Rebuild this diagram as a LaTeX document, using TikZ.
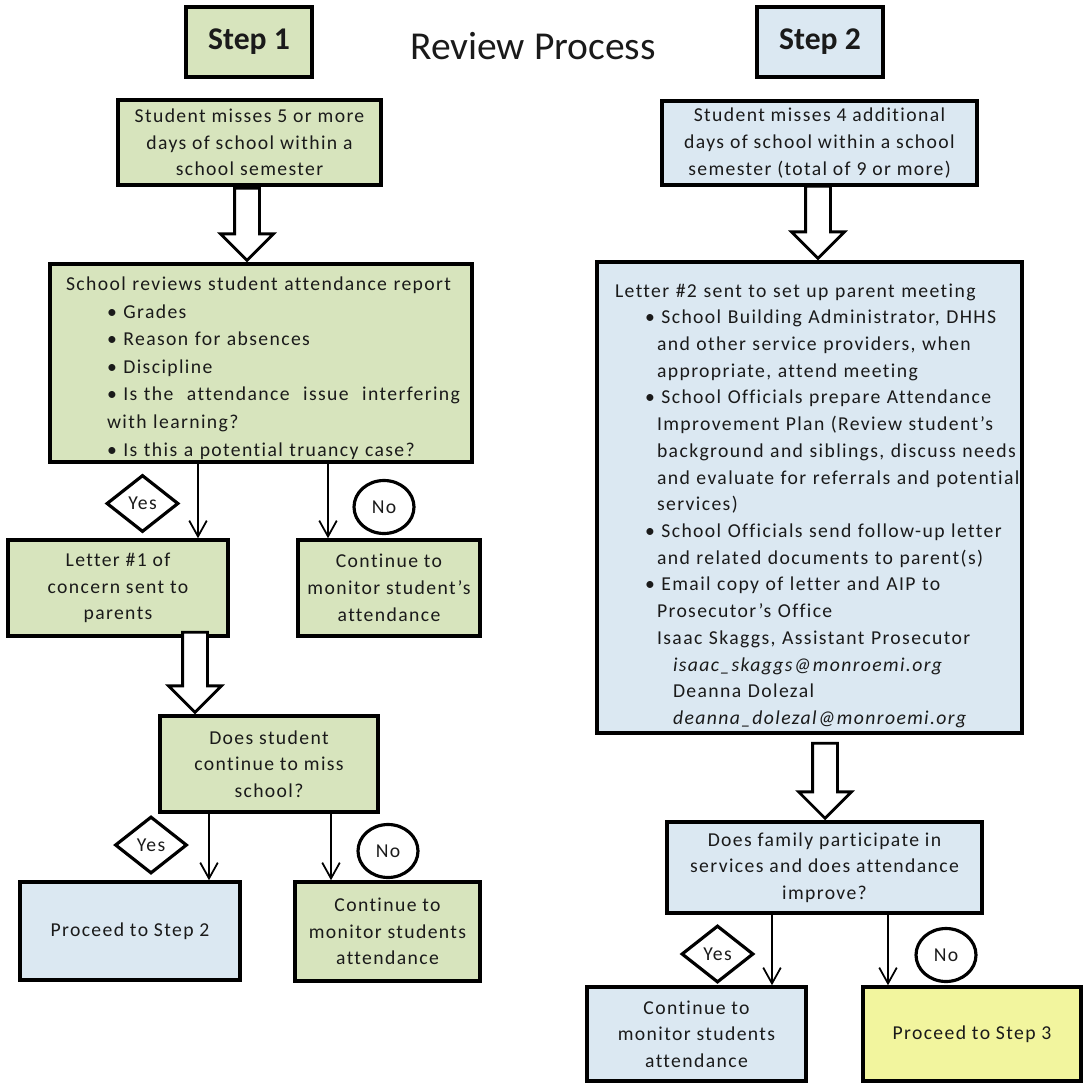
\documentclass[tikz,border=0pt]{standalone}
\usepackage{fontspec}
\setmainfont{Carlito}
\newfontfamily\spacedfont[LetterSpace=7,RawFeature={-liga}]{Carlito}
\definecolor{rpGreen}{HTML}{D7E4BD}
\definecolor{rpBlue}{HTML}{DBE8F2}
\definecolor{rpYellow}{HTML}{F2F59E}
\definecolor{rpInk}{HTML}{1A1A1A}
\usetikzlibrary{positioning,arrows.meta,calc,shapes.geometric,shapes.arrows}
\begin{document}
\begin{tikzpicture}[x=0.02cm, y=-0.02cm,
  every node/.style={font=\spacedfont\fontsize{11.2}{15.2}\selectfont, text=rpInk},
  box/.style={draw, line width=2pt, align=center, inner sep=0pt},
  stepbox/.style={box, minimum width=2.52cm, minimum height=1.4cm, font=\bfseries\fontsize{18}{20}\selectfont},
  yes/.style={draw, diamond, line width=1.8pt, inner sep=0pt, minimum width=1.44cm, minimum height=1.14cm},
  no/.style={draw, ellipse, line width=1.8pt, inner sep=0pt, minimum width=1.2cm, minimum height=1.06cm},
  bigarrow/.style={draw, single arrow, fill=white, line width=1.6pt, shape border rotate=270, single arrow head extend=0.28cm, inner sep=0.22cm, anchor=tip},
  thinarrow/.style={line width=1pt, -{Straight Barb[length=9pt,width=10pt]}}]
\useasboundingbox (0,0) rectangle (1083,1084);
\node[stepbox, fill=rpGreen] (step1) at (249,42) {Step 1};
\node[font=\fontsize{22.5}{24}\selectfont] (title) at (533,46) {Review Process};
\node[stepbox, fill=rpBlue] (step2) at (820,42) {Step 2};

\node[box, fill=rpGreen, minimum width=5.26cm, minimum height=1.7cm] (miss5) at (249.5,142.5) {Student misses 5 or more\\days of school within a\\school semester};
\node[box, fill=rpGreen, minimum width=8.44cm, minimum height=3.96cm, text width=8cm, align=left, font=\spacedfont\fontsize{11.2}{15.7}\selectfont] (review) at (261,363) {\rule{0pt}{0.48cm}\hspace*{0.1cm}School reviews student attendance report\\
\hspace*{0.92cm}• Grades\\
\hspace*{0.92cm}• Reason for absences\\
\hspace*{0.92cm}• Discipline\\
\hspace*{0.92cm}\makebox[7.06cm][l]{• Is the\hfill attendance\hfill issue\hfill interfering}\\
\hspace*{0.92cm}with learning?\\
\hspace*{0.92cm}• Is this a potential truancy case?};
\node[box, fill=rpGreen, minimum width=4.4cm, minimum height=1.92cm] (letter1) at (118,588) {Letter \#1 of\\concern sent to\\parents};
\node[box, fill=rpGreen, minimum width=3.64cm, minimum height=1.92cm] (watch1) at (389,588) {Continue to\\monitor student’s\\attendance};
\node[box, fill=rpGreen, minimum width=4.36cm, minimum height=1.92cm] (query1) at (269,764) {Does student\\continue to miss\\school?};
\node[box, fill=rpBlue, minimum width=4.4cm, minimum height=1.96cm] (goto2) at (130,931) {Proceed to Step 2};
\node[box, fill=rpGreen, minimum width=3.7cm, minimum height=1.98cm] (watch2) at (387.5,931.5) {Continue to\\monitor students\\attendance};

\node[box, fill=rpBlue, minimum width=6.3cm, minimum height=1.68cm] (miss4) at (819.5,143) {Student misses 4 additional\\days of school within a school\\semester (total of 9 or more)};
\node[box, fill=rpBlue, minimum width=8.5cm, minimum height=9.42cm, text width=8.1cm, align=left] (letter2) at (809.5,497.5) {\rule{0pt}{0.6cm}\hspace*{0.16cm}Letter \#2 sent to set up parent meeting\\
\hspace*{0.76cm}• School Building Administrator, DHHS\\
\hspace*{1cm}and other service providers, when\\
\hspace*{1cm}appropriate, attend meeting\\
\hspace*{0.76cm}• School Officials prepare Attendance\\
\hspace*{1cm}\makebox[6.72cm][l]{Improvement\hfill Plan\hfill (Review\hfill student’s}\\
\hspace*{1cm}background and siblings, discuss needs\\
\hspace*{1cm}and evaluate for referrals and potential\\
\hspace*{1cm}services)\\
\hspace*{0.76cm}• School Officials send follow-up letter\\
\hspace*{1cm}and related documents to parent(s)\\
\hspace*{0.76cm}• Email copy of letter and AIP to\\
\hspace*{1cm}Prosecutor’s Office\\
\hspace*{1cm}Isaac Skaggs, Assistant Prosecutor\\
\hspace*{1.32cm}\textit{isaac\_skaggs@monroemi.org}\\
\hspace*{1.32cm}Deanna Dolezal\\
\hspace*{1.32cm}\textit{deanna\_dolezal@monroemi.org}};
\node[box, fill=rpBlue, minimum width=6.3cm, minimum height=1.82cm] (query2) at (824.5,867.5) {Does family participate in\\services and does attendance\\improve?};
\node[box, fill=rpBlue, minimum width=4.38cm, minimum height=1.88cm] (watch3) at (696.5,1034) {Continue to\\monitor students\\attendance};
\node[box, fill=rpYellow, minimum width=4.36cm, minimum height=1.88cm] (goto3) at (972,1034) {Proceed to Step 3};

\node[bigarrow, minimum height=1.44cm] (down1) at (review.north -| 247,0) {};
\node[bigarrow, minimum height=1.6cm] (down2) at (query1.north -| 195,0) {};
\node[bigarrow, minimum height=1.44cm] (down3) at (letter2.north -| 818,0) {};
\node[bigarrow, minimum height=1.5cm] (down4) at (query2.north -| 825,0) {};

\draw[thinarrow] (review.south -| 198,0) -- (letter1.north -| 198,0);
\draw[thinarrow] (review.south -| 328,0) -- (watch1.north -| 328,0);
\draw[thinarrow] (query1.south -| 209,0) -- (goto2.north -| 209,0);
\draw[thinarrow] (query1.south -| 331,0) -- (watch2.north -| 331,0);
\draw[thinarrow] (query2.south -| 772,0) -- (watch3.north -| 772,0);
\draw[thinarrow] (query2.south -| 888,0) -- (goto3.north -| 888,0);

\node[yes] (yes1) at (142.5,503.5) {Yes};
\node[no] (no1) at (384,507) {No};
\node[yes] (yes2) at (151,845) {Yes};
\node[no] (no2) at (388,851) {No};
\node[yes] (yes3) at (717.5,954) {Yes};
\node[no] (no3) at (946,955) {No};
\end{tikzpicture}
\end{document}
